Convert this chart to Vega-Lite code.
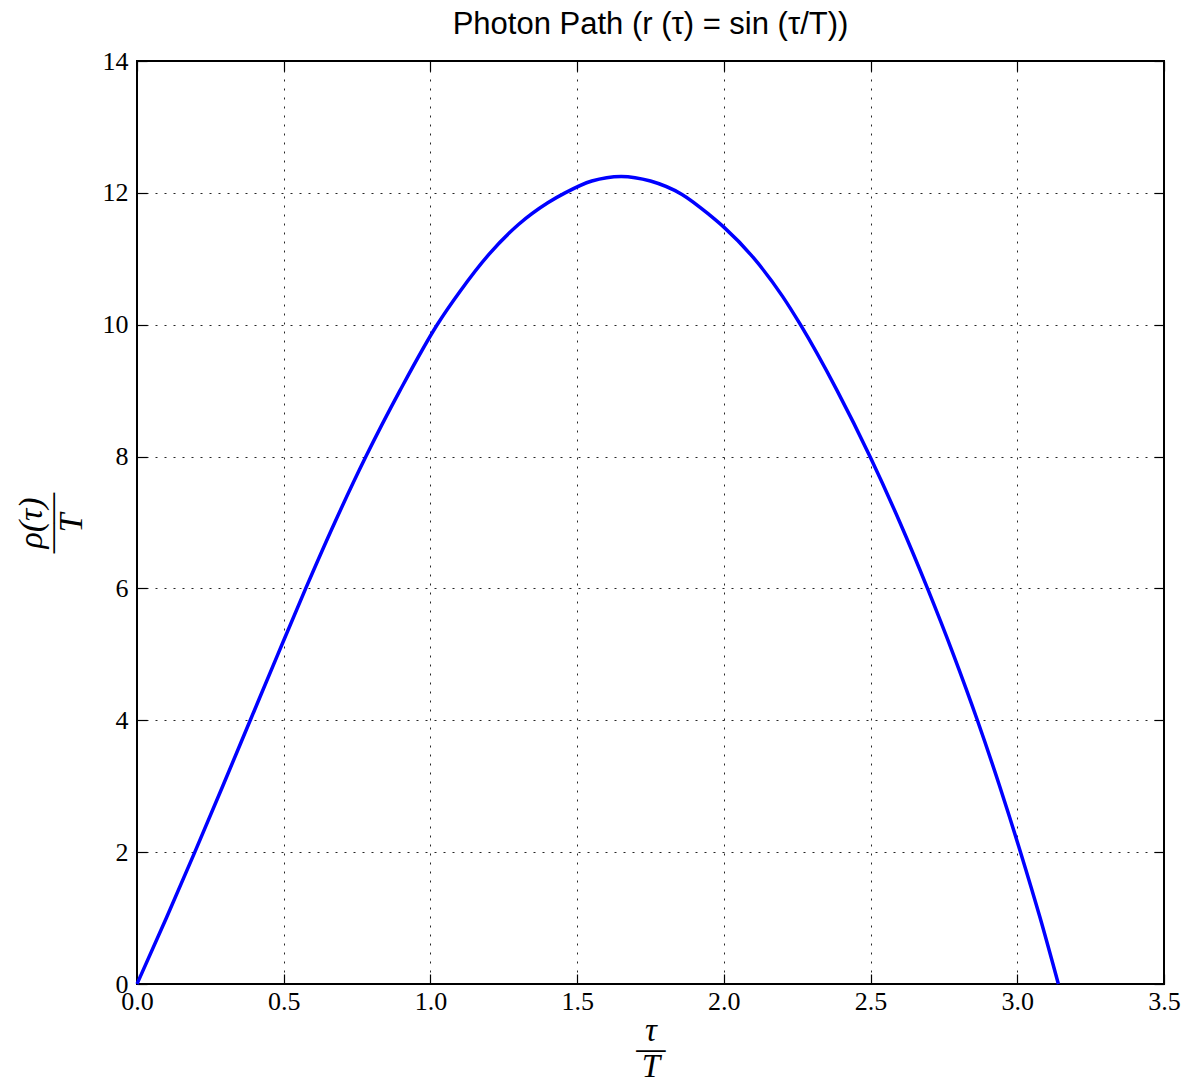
{
  "$schema": "https://vega.github.io/schema/vega-lite/v6.json",
  "autosize": {"type": "none"},
  "padding": {"left": 137, "top": 61, "right": 24, "bottom": 98},
  "width": 1027,
  "height": 923,
  "background": "white",
  "config": {
    "view": {"stroke": "black", "strokeWidth": 2},
    "axis": {
      "domain": false,
      "gridColor": "black",
      "gridDash": [2, 7],
      "gridWidth": 1,
      "gridOpacity": 0.85,
      "tickColor": "black",
      "tickWidth": 1.2,
      "tickSize": -10,
      "labelFlush": false,
      "labelFont": "Liberation Serif",
      "labelFontSize": 26,
      "labelColor": "black",
      "titleFont": "Liberation Serif",
      "titleFontStyle": "italic",
      "titleFontWeight": "normal",
      "titleColor": "black"
    }
  },
  "title": {
    "text": "Photon Path (r (τ) = sin (τ/T))",
    "font": "Liberation Sans",
    "fontSize": 31,
    "fontWeight": "normal",
    "color": "black",
    "offset": 7
  },
  "data": {
    "values": [
      {"t": 0.0, "rho": 0.0},
      {"t": 0.1, "rho": 1.0},
      {"t": 0.197, "rho": 2.0},
      {"t": 0.292, "rho": 3.0},
      {"t": 0.386, "rho": 4.0},
      {"t": 0.48, "rho": 5.0},
      {"t": 0.575, "rho": 6.0},
      {"t": 0.674, "rho": 7.0},
      {"t": 0.78, "rho": 8.0},
      {"t": 0.896, "rho": 9.0},
      {"t": 1.023, "rho": 10.0},
      {"t": 1.1, "rho": 10.5},
      {"t": 1.2, "rho": 11.07},
      {"t": 1.3, "rho": 11.52},
      {"t": 1.4, "rho": 11.85},
      {"t": 1.459, "rho": 12.0},
      {"t": 1.55, "rho": 12.18},
      {"t": 1.65, "rho": 12.25},
      {"t": 1.75, "rho": 12.18},
      {"t": 1.856, "rho": 11.98},
      {"t": 1.95, "rho": 11.67},
      {"t": 2.0, "rho": 11.48},
      {"t": 2.1, "rho": 11.02},
      {"t": 2.2, "rho": 10.43},
      {"t": 2.261, "rho": 10.0},
      {"t": 2.386, "rho": 9.0},
      {"t": 2.498, "rho": 8.0},
      {"t": 2.6, "rho": 7.0},
      {"t": 2.694, "rho": 6.0},
      {"t": 2.782, "rho": 5.0},
      {"t": 2.864, "rho": 4.0},
      {"t": 2.94, "rho": 3.0},
      {"t": 3.011, "rho": 2.0},
      {"t": 3.078, "rho": 1.0},
      {"t": 3.14, "rho": 0.0}
    ]
  },
  "layer": [
    {
      "mark": {"type": "line", "color": "#0000ff", "strokeWidth": 3.5, "interpolate": "monotone"},
      "encoding": {
        "x": {
          "field": "t", "type": "quantitative",
          "scale": {"domain": [0, 3.5], "nice": false, "zero": false},
          "axis": {"values": [0, 0.5, 1, 1.5, 2, 2.5, 3, 3.5], "format": ".1f", "labelPadding": 14, "title": ["τ", "—", "T"], "titleFontSize": 33, "titleLineHeight": 18, "titlePadding": 0}
        },
        "y": {
          "field": "rho", "type": "quantitative",
          "scale": {"domain": [0, 14], "nice": false, "zero": false},
          "axis": {"values": [0, 2, 4, 6, 8, 10, 12, 14], "labelPadding": 19, "title": ["ρ(τ)", "——", "T"], "titleFontSize": 34, "titleLineHeight": 20, "titlePadding": 14}
        }
      }
    },
    {
      "mark": {"type": "line", "opacity": 0},
      "encoding": {
        "x": {
          "field": "t", "type": "quantitative",
          "scale": {"domain": [0, 3.5], "nice": false, "zero": false},
          "axis": {"orient": "top", "values": [0, 0.5, 1, 1.5, 2, 2.5, 3, 3.5], "labels": false, "grid": false, "title": null}
        },
        "y": {
          "field": "rho", "type": "quantitative",
          "scale": {"domain": [0, 14], "nice": false, "zero": false},
          "axis": {"orient": "right", "values": [0, 2, 4, 6, 8, 10, 12, 14], "labels": false, "grid": false, "title": null}
        }
      }
    }
  ],
  "resolve": {"axis": {"x": "independent", "y": "independent"}}
}
